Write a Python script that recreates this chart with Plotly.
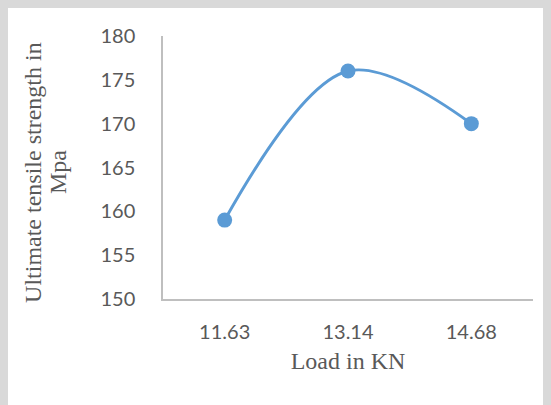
import plotly.graph_objects as go

loads = ["11.63", "13.14", "14.68"]
uts = [159, 176, 170]
y_ticks = [150, 155, 160, 165, 170, 175, 180]
y_title_lines = ["Ultimate tensile strength in", "Mpa"]
x_title = "Load in KN"

fig = go.Figure()
fig.add_trace(go.Scatter(
    x=loads, y=uts, mode="lines+markers",
    line=dict(color="#5b9bd5", width=3, shape="spline", smoothing=1.0),
    marker=dict(color="#5b9bd5", size=15),
    showlegend=False,
))

serif = "Liberation Serif"
sans = "Lato"
txt = "#595959"
fig.update_layout(
    width=543, height=397,
    margin=dict(l=155, r=18, t=28, b=106),
    paper_bgcolor="white", plot_bgcolor="white",
    xaxis=dict(
        type="category", range=[-0.5, 2.5],
        showline=True, linecolor="#bfbfbf", linewidth=1.5,
        showgrid=False, ticks="", ticklabelstandoff=14,
        tickfont=dict(family=sans, size=20, color=txt),
        title=dict(text=x_title, standoff=10,
                   font=dict(family=serif, size=24, color=txt)),
    ),
    yaxis=dict(
        range=[150, 180], tickvals=y_ticks,
        showline=True, linecolor="#bfbfbf", linewidth=1.5,
        showgrid=False, ticks="", zeroline=False, ticklabelstandoff=22,
        tickfont=dict(family=sans, size=20, color=txt),
    ),
)

for xpos, line in zip([-0.3514, -0.2838], y_title_lines):
    fig.add_annotation(
        text=line, xref="paper", yref="paper", x=xpos, y=0.483,
        xanchor="center", yanchor="middle", textangle=-90, showarrow=False,
        font=dict(family=serif, size=24, color=txt),
    )

fig.write_html("out.html",
               post_script="document.body.style.background='#d9d9d9';")
